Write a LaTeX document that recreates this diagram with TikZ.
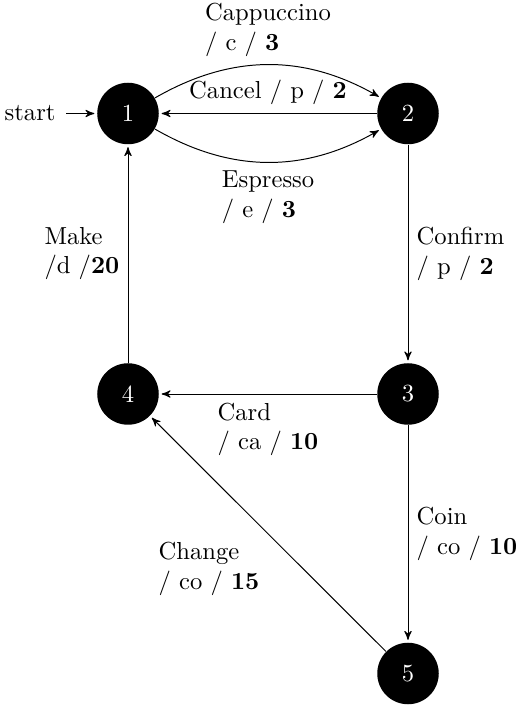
\documentclass[tikz,border=0pt]{standalone}
\usetikzlibrary{arrows}
\begin{document}
\begin{tikzpicture}[x=0.4065pt,y=0.4065pt, >=stealth',
  stnode/.style={circle, fill=black, text=white, minimum size=2.5em, inner sep=0pt},
  edge/.style={->, shorten >=1pt},
  lbl/.style={align=left}]
\useasboundingbox (0,0) rectangle (519,709);
\node[stnode] (s1) at (128,595.5) {1};
\node[stnode] (s2) at (408,595.5) {2};
\node[stnode] (s3) at (408,315) {3};
\node[stnode] (s4) at (128,315) {4};
\node[stnode] (s5) at (408,35.5) {5};
\node[anchor=east, inner sep=0pt] (st) at (56,595.5) {start};
\coordinate (stc) at (66,595.5);
\draw[edge] (stc) -- (s1);
\draw[edge] (s1) to[bend left=30] node[above, lbl] {Cappuccino\\/ c / \textbf{3}} (s2);
\draw[edge] (s2) -- node[above] {Cancel / p / \textbf{2}} (s1);
\draw[edge] (s1) to[bend right=30] node[below, lbl] {Espresso\\/ e / \textbf{3}} (s2);
\draw[edge] (s2) -- node[right, lbl] {Confirm\\/ p / \textbf{2}} (s3);
\draw[edge] (s3) -- node[below, lbl] {Card\\/ ca / \textbf{10}} (s4);
\draw[edge] (s4) -- node[left, lbl] {Make\\/d /\textbf{20}} (s1);
\draw[edge] (s3) -- node[right, lbl] {Coin\\/ co / \textbf{10}} (s5);
\draw[edge] (s5) -- node[below left, lbl] {Change\\/ co / \textbf{15}} (s4);
\end{tikzpicture}
\end{document}
